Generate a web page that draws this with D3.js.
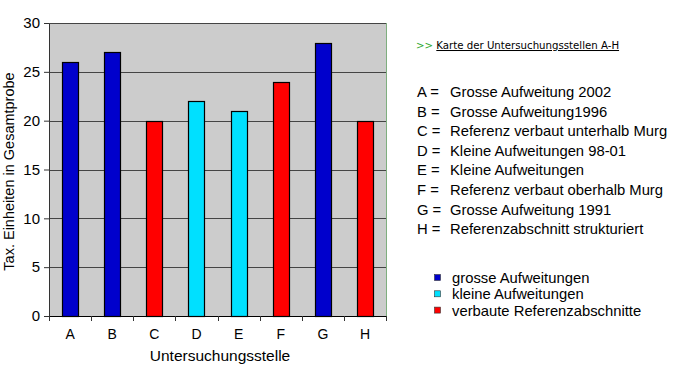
<!DOCTYPE html>
<html lang="de">
<head>
<meta charset="UTF-8">
<title>Untersuchungsstellen</title>
<script src="https://d3js.org/d3.v7.min.js"></script>
<style>
  body { margin: 0; background: #fff; font-family: "Liberation Sans", Arial, sans-serif; }
  svg text { fill: #000; }
</style>
</head>
<body>
<script>
var categories = ["A", "B", "C", "D", "E", "F", "G", "H"];
var values = [26, 27, 20, 22, 21, 24, 28, 20];
var groups = ["g", "g", "r", "k", "k", "r", "g", "r"];
var yTicks = [0, 5, 10, 15, 20, 25, 30];
var groupKeys = ["g", "k", "r"];
var groupLabels = ["grosse Aufweitungen", "kleine Aufweitungen", "verbaute Referenzabschnitte"];
var groupColors = ["#0000cc", "#00e0ff", "#ff0000"];
var siteNames = [
  "Grosse Aufweitung 2002",
  "Grosse Aufweitung1996",
  "Referenz verbaut unterhalb Murg",
  "Kleine Aufweitungen 98-01",
  "Kleine Aufweitungen",
  "Referenz verbaut oberhalb Murg",
  "Grosse Aufweitung 1991",
  "Referenzabschnitt strukturiert"
];

var W = 680, H = 371;
var margin = {top: 23, left: 49, right: 294, bottom: 55};
var width = W - margin.left - margin.right;
var height = H - margin.top - margin.bottom;

var svg = d3.select("body").append("svg")
  .attr("width", W).attr("height", H);

var x = d3.scaleBand().domain(categories).range([0, width]);
var y = d3.scaleLinear().domain([0, 30]).range([height, 0]);
var color = d3.scaleOrdinal().domain(groupKeys).range(groupColors);

var chart = svg.append("g")
  .attr("transform", "translate(" + margin.left + "," + margin.top + ")");

// plot background
chart.append("rect")
  .attr("width", width).attr("height", height)
  .attr("fill", "#cccccc");

// gridlines
chart.append("g")
  .selectAll("line")
  .data(yTicks.slice(1))
  .join("line")
  .attr("x1", 0).attr("x2", width)
  .attr("y1", function(d) { return Math.round(y(d)) + 0.5; })
  .attr("y2", function(d) { return Math.round(y(d)) + 0.5; })
  .attr("stroke", "#444").attr("stroke-width", 1);

// right border
chart.append("line")
  .attr("x1", width + 0.5).attr("x2", width + 0.5)
  .attr("y1", 0).attr("y2", height)
  .attr("stroke", "#7fae7f");

// bars
var barW = 16;
chart.append("g")
  .selectAll("rect")
  .data(values)
  .join("rect")
  .attr("x", function(d, i) { return Math.round(x(categories[i]) + x.bandwidth() / 2 - barW / 2) + 0.5; })
  .attr("y", function(d) { return Math.round(y(d)) + 0.5; })
  .attr("width", barW)
  .attr("height", function(d) { return Math.round(height - y(d)); })
  .attr("fill", function(d, i) { return color(groups[i]); })
  .attr("stroke", "#000").attr("stroke-width", 1.2);

// y axis
var yAxis = chart.append("g")
  .call(d3.axisLeft(y).tickValues(yTicks).tickSize(5).tickPadding(4));
yAxis.select(".domain").attr("stroke", "#333");
yAxis.selectAll("line").attr("stroke", "#333");
yAxis.selectAll("text").style("font-size", "15px").style("font-family", "Liberation Sans, Arial, sans-serif");

// x axis
var xAxis = chart.append("g")
  .attr("transform", "translate(0," + height + ")")
  .call(d3.axisBottom(x).tickSize(0).tickPadding(13));
xAxis.select(".domain").attr("stroke", "#000");
xAxis.selectAll("text").style("font-size", "14px").style("font-family", "Liberation Sans, Arial, sans-serif");

// separator ticks between categories
chart.append("g")
  .selectAll("line")
  .data(categories.concat(["end"]))
  .join("line")
  .attr("x1", function(d, i) { return Math.round(i * x.step()) + 0.5; })
  .attr("x2", function(d, i) { return Math.round(i * x.step()) + 0.5; })
  .attr("y1", height).attr("y2", height + 5)
  .attr("stroke", "#333");

// top border
chart.append("line")
  .attr("x1", 0).attr("x2", width)
  .attr("y1", 0.5).attr("y2", 0.5)
  .attr("stroke", "#444");

// axis titles
svg.append("text")
  .attr("transform", "translate(14," + (margin.top + height / 2 + 2) + ") rotate(-90)")
  .attr("text-anchor", "middle")
  .style("font-size", "14.5px")
  .text("Tax. Einheiten in Gesamtprobe");

svg.append("text")
  .attr("x", 220)
  .attr("y", 361)
  .attr("text-anchor", "middle")
  .style("font-size", "15.5px")
  .text("Untersuchungsstelle");

// link line
var link = svg.append("text")
  .attr("x", 416).attr("y", 49)
  .style("font-family", "DejaVu Sans, Verdana, sans-serif")
  .style("font-size", "10.2px");
link.append("tspan").style("fill", "#33aa33").text(">> ");
link.append("tspan").style("text-decoration", "underline").text("Karte der Untersuchungsstellen A-H");

// site list
var list = svg.append("g");
list.selectAll("text.key")
  .data(categories)
  .join("text")
  .attr("class", "key")
  .attr("x", 417)
  .attr("y", function(d, i) { return 97 + i * 19.6; })
  .style("font-size", "14.8px")
  .text(function(d) { return d + " ="; });
list.selectAll("text.name")
  .data(siteNames)
  .join("text")
  .attr("class", "name")
  .attr("x", 450)
  .attr("y", function(d, i) { return 97 + i * 19.6; })
  .style("font-size", "14.8px")
  .text(function(d) { return d; });

// legend
var legend = svg.append("g")
  .selectAll("g")
  .data(groupKeys)
  .join("g")
  .attr("transform", function(d, i) { return "translate(434," + (274 + i * 16.3) + ")"; });
legend.append("rect")
  .attr("x", 0.5).attr("y", 0.5)
  .attr("width", 6).attr("height", 6)
  .attr("fill", function(d) { return color(d); })
  .attr("stroke", "#333").attr("stroke-width", 0.6);
legend.append("text")
  .attr("x", 18).attr("y", 9)
  .style("font-size", "14.8px")
  .text(function(d, i) { return groupLabels[i]; });
</script>
</body>
</html>
